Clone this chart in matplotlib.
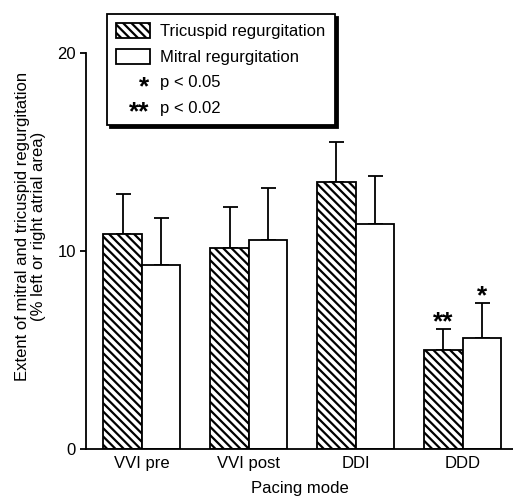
import matplotlib
matplotlib.use("Agg")
import matplotlib.pyplot as plt
import numpy as np
from matplotlib.patches import Patch
from matplotlib.legend_handler import HandlerBase
from matplotlib.text import Text

plt.rcParams['font.family'] = ['Liberation Sans', 'DejaVu Sans']
plt.rcParams['hatch.linewidth'] = 1.6

modes = ["VVI pre", "VVI post", "DDI", "DDD"]
tricuspid = [10.85, 10.15, 13.5, 5.0]
tricuspid_err = [2.05, 2.05, 2.0, 1.05]
mitral = [9.3, 10.55, 11.35, 5.6]
mitral_err = [2.35, 2.65, 2.45, 1.8]
tri_sig = ["", "", "", "**"]
mit_sig = ["", "", "", "*"]

FS = 12

fig = plt.figure(figsize=(5.13, 4.97), dpi=100)
ax = fig.add_axes([0.168, 0.0966, 0.832, 0.7966])

x = np.arange(len(modes))
w = 0.36
b1 = ax.bar(x - w/2, tricuspid, w, color='white', edgecolor='black',
            hatch='\\\\\\\\', linewidth=1.3, zorder=2)
b2 = ax.bar(x + w/2, mitral, w, color='white', edgecolor='black',
            linewidth=1.3, zorder=2)
ax.errorbar(x - w/2, tricuspid, yerr=[np.zeros(4), tricuspid_err], fmt='none',
            ecolor='black', elinewidth=1.3, capsize=5.4, capthick=1.3, zorder=1)
ax.errorbar(x + w/2, mitral, yerr=[np.zeros(4), mitral_err], fmt='none',
            ecolor='black', elinewidth=1.3, capsize=5.4, capthick=1.3, zorder=1)

for i in range(4):
    if tri_sig[i]:
        ax.annotate(tri_sig[i], (x[i] - w/2, tricuspid[i] + tricuspid_err[i]),
                    xytext=(0, -4), textcoords='offset points', ha='center',
                    va='bottom', fontsize=19, fontweight='bold')
    if mit_sig[i]:
        ax.annotate(mit_sig[i], (x[i] + w/2, mitral[i] + mitral_err[i]),
                    xytext=(0, -4), textcoords='offset points', ha='center',
                    va='bottom', fontsize=19, fontweight='bold')

ax.set_xlim(-0.52, 3.47)
ax.set_ylim(0, 20)
ax.set_yticks([0, 10, 20])
ax.set_xticks(x)
ax.set_xticklabels(modes, fontsize=FS)
ax.tick_params(axis='x', length=0, pad=5)
ax.tick_params(axis='y', length=4, width=1.3, direction='out', labelsize=FS)
for s in ['top', 'right']:
    ax.spines[s].set_visible(False)
ax.spines['left'].set_linewidth(1.3)
ax.spines['bottom'].set_linewidth(1.3)
ax.set_xlabel("Pacing mode", fontsize=FS, labelpad=7)
ax.set_ylabel("Extent of mitral and tricuspid regurgitation\n(% left or right atrial area)",
              fontsize=FS, linespacing=1.05)
ax.yaxis.set_label_coords(-0.095, 0.563)


class TextHandler(HandlerBase):
    def __init__(self, s):
        super().__init__()
        self.s = s

    def create_artists(self, legend, orig_handle, xdescent, ydescent, width,
                       height, fontsize, trans):
        t = Text(width, height / 2 - 5, self.s, ha='right', va='center',
                 fontsize=19, fontweight='bold', transform=trans)
        return [t]


class Dummy:
    pass

h1 = Patch(facecolor='white', edgecolor='black', hatch='\\\\\\\\', linewidth=1.3)
h2 = Patch(facecolor='white', edgecolor='black', linewidth=1.3)
d1, d2 = Dummy(), Dummy()
leg = fig.legend([h1, h2, d1, d2],
                 ["Tricuspid regurgitation", "Mitral regurgitation", "p < 0.05", "p < 0.02"],
                 handler_map={d1: TextHandler("*"), d2: TextHandler("**")},
                 loc='upper left', bbox_to_anchor=(107/513, 1 - 14/497),
                 frameon=True, fancybox=False, shadow={'color': 'black', 'alpha': 1},
                 edgecolor='black', framealpha=1, fontsize=FS,
                 handlelength=2.0, handleheight=1.0, labelspacing=0.56,
                 borderpad=0.55, handletextpad=0.66, borderaxespad=0)
leg.get_frame().set_linewidth(1.3)

fig.savefig("out.png", dpi=100)
